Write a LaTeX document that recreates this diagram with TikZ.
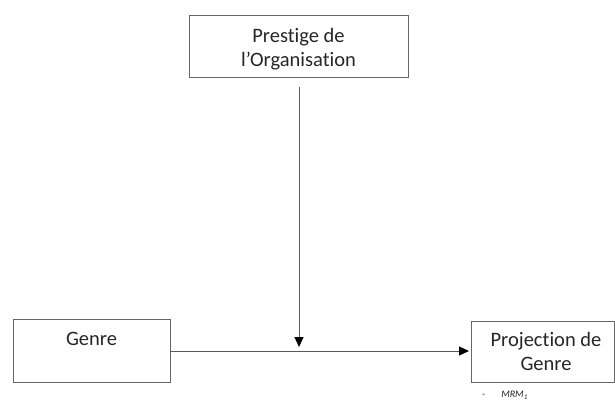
\documentclass[tikz,border=0pt]{standalone}
\usepackage{fontspec}
\setmainfont[Ligatures={NoCommon,NoRare}]{Carlito}
\usetikzlibrary{arrows.meta}
\tikzset{
  box/.style={draw=black!60, line width=0.9pt, inner sep=0pt},
  lbl/.style={inner sep=0pt, align=center, text=black!85, font=\fontsize{20.5}{24}\selectfont},
  conn/.style={draw=black!65, line width=1pt, -{Triangle[length=10pt,width=9pt,fill=black,color=black]}},
  note/.style={inner sep=0pt, text=black!85, font=\fontsize{10}{11}\selectfont\itshape}
}
\begin{document}
\begin{tikzpicture}[x=1pt,y=-1pt]
\useasboundingbox (0,0) rectangle (615,401);
% boxes
\node[box, minimum width=219pt, minimum height=62pt] (top) at (298.5,46) {};
\node[box, minimum width=157pt, minimum height=63pt] (genre) at (91.5,350.5) {};
\node[box, minimum width=143pt, minimum height=61pt] (proj) at (542.5,351.5) {};
% texts
\node[lbl] (toptxt) at (298.5,49) {Prestige de\\l’Organisation};
\node[lbl, anchor=base] (genretxt) at (91.5,345) {Genre};
\node[lbl] (projtxt) at (546,351) {Projection de\\Genre};
\node[note, anchor=base west] (mrm) at (482,397.5) {-\hspace{16pt}MRM\textsubscript{1}};
% connectors
\coordinate (vstart) at (299,87);
\coordinate (hend) at (469,351);
\coordinate (vend) at (299,347);
\draw[conn] (genre.east |- hend) -- (hend);
\draw[conn] (vstart) -- (vend);
\end{tikzpicture}
\end{document}
